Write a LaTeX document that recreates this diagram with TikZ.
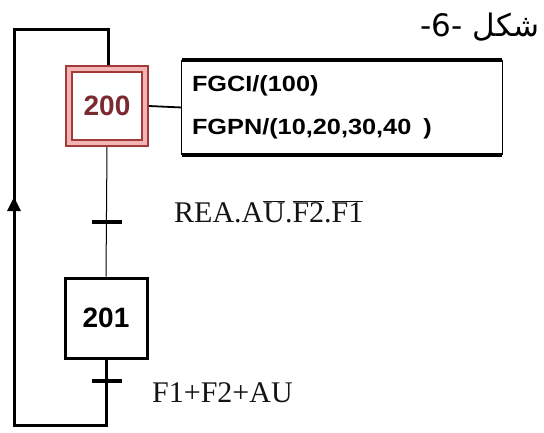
\documentclass[tikz,border=0pt]{standalone}
\usepackage{fontspec}
\setmainfont{Liberation Serif}
\newfontfamily\sansb{Liberation Sans}
\newfontfamily\sansw[FakeStretch=1.15]{Liberation Sans}
\newfontfamily\arabicfont[Script=Arabic]{DejaVu Sans}
\TeXXeTstate=1
\usetikzlibrary{arrows.meta}
\definecolor{stepred}{HTML}{A33A3A}
\definecolor{steppink}{HTML}{F2B4B4}
\definecolor{steptext}{HTML}{7A2A30}
\tikzset{
  wire/.style={line width=3pt},
  thinwire/.style={line width=1pt},
  trans/.style={line width=3.5pt},
  stepbox/.style={draw, line width=3pt, minimum width=82pt, minimum height=80pt, inner sep=0pt, font=\sansb\bfseries\fontsize{28}{30}\selectfont},
  acttext/.style={anchor=west, inner sep=0pt, font=\sansw\bfseries\fontsize{22}{24}\selectfont},
  lbl/.style={anchor=west, inner sep=0pt, font=\fontsize{30}{32}\selectfont, text=black!92}
}
\newcommand{\ovl}[1]{$\overline{\mbox{#1}}$}
\begin{document}
\begin{tikzpicture}[x=1pt,y=-1pt]
\useasboundingbox (0,0) rectangle (544,432);
% initial step 200
\node[stepbox, draw=stepred, fill=steppink, line width=2pt] (s200) at (107,106) {};
\node[draw=stepred, fill=white, line width=2pt, minimum width=70pt, minimum height=68pt, inner sep=0pt, font=\sansb\bfseries\fontsize{28}{30}\selectfont, text=steptext] (s200i) at (107,106) {200};
% step 201
\node[stepbox] (s201) at (106,318) {201};
% action box
\node[minimum width=320pt, minimum height=95pt, inner sep=0pt] (act) at (342,107.5) {};
\draw[thinwire] (act.north west) -- (act.south west);
\draw[thinwire] (act.north east) -- (act.south east);
\draw[line width=3.5pt] (act.north west) -- (act.north east);
\draw[line width=3.5pt] (act.south west) -- (act.south east);
\node[acttext] (a1) at ([xshift=10pt,yshift=22pt]act.west) {FGCI/(100)};
\node[acttext] (a2) at ([xshift=10pt,yshift=-21pt]act.west) {FGPN/(10,20,30,40\hspace{12pt})};
\draw[line width=1.8pt] (s200.east) -- (act.west);
% links
\coordinate (tl) at (14,29);
\coordinate (tr) at (108,29);
\coordinate (bl) at (14,425);
\coordinate (br) at (106,425);
\draw[wire, line join=miter] (s200.north -| tr) -- (tr) -- (tl) -- (bl) -- (br) -- (s201.south);
\draw[thinwire] (s200.south) -- (s201.north);
\draw[-{Triangle[length=14pt,width=13pt]}, wire] (14,222) -- (14,197);
% transitions
\coordinate (t1) at (107,222);
\coordinate (t2) at (107,381);
\draw[trans] ([xshift=-15pt]t1) -- ([xshift=15pt]t1);
\draw[trans] ([xshift=-15pt]t2) -- ([xshift=15pt]t2);
\node[lbl] (c1) at (174,212) {REA.A\ovl{U}.\ovl{F2}.\ovl{F1}};
\node[lbl] (c2) at (152,393) {F1+F2+AU};
% title
\node[inner sep=0pt, font=\arabicfont\fontsize{31}{34}\selectfont] (title) at (480,27) {\beginR شكل \beginL-6-\endL\endR};
\end{tikzpicture}
\end{document}
